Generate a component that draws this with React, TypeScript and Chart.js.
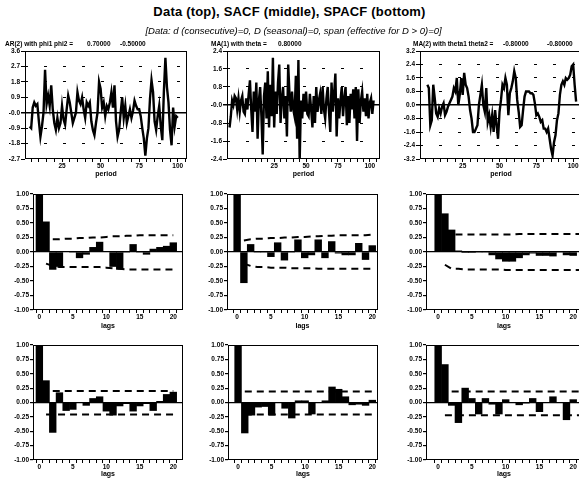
import React, { useEffect, useRef } from "react";
import { Chart, registerables } from "chart.js";

Chart.register(...registerables);

const FONT = '"Liberation Sans", Arial, Helvetica, sans-serif';
Chart.defaults.font.family = FONT;
Chart.defaults.color = "#000";

// ---------------- DATA ----------------
// Top row: simulated series (value per period)
const arStartPeriod = 4;
const arSeries = [
  -0.8, -0.9, 0.3, 0.6, 0.4, 0.5, -0.5, -1.4, -0.8, 0.0,
  2.5, 0.5, 1.0, 0.4, 1.6, 0.2, -0.6, -1.0, -0.3, -0.9,
  -0.6, 0.4, -0.4, -0.7, 0.2, 1.0, 0.6, 0.0, -0.6, -0.3,
  0.0, 1.2, 0.7, 0.5, 0.9, 0.2, -0.3, 0.6, 0.4, 0.6,
  -0.5, -1.0, -1.3, -0.6, 0.0, 1.8, 1.4, 0.3, 0.6, -0.2,
  0.4, 0.2, 0.6, 1.2, 0.3, 1.6, -0.5, -1.4, -1.0, 0.0,
  0.9, -0.3, 0.4, -0.6, -0.2, 0.2, -0.3, 0.1, 0.7, 0.4,
  0.2, 0.2, -0.2, -0.9, -1.5, -2.5, -1.5, -0.9, 0.8, 1.9,
  1.2, -0.5, -1.0, -0.2, 0.4, -0.8, -1.6, 1.2, 3.2, 1.5,
  0.6, -1.0, -1.9, 0.3, -0.8, -0.2, -0.3,
];

const ma1StartPeriod = -10;
const ma1Series = [
  -1.0, -0.5, 0.2, 0.0, 0.4, 0.3, -0.2, 0.3, -0.3, 0.2,
  0.4, -0.3, -0.4, 0.3, -0.2, 0.5, 1.1, -0.2, -1.2, 0.6,
  -0.3, 1.0, -1.5, 0.2, 0.8, -0.5, -2.2, 0.4, 1.0, -0.6,
  1.5, -1.0, 0.9, -0.5, 2.1, -1.0, 0.6, -0.4, 1.0, 1.8,
  -0.8, 0.3, 0.8, -0.6, 0.4, -1.4, 1.8, 0.5, -0.3, 0.6,
  -0.2, -0.5, 1.3, -1.5, 2.0, -2.5, 0.2, -0.6, 0.5, -0.3,
  0.6, -0.4, -0.5, 0.5, -0.2, -1.0, 0.4, -0.8, 0.8, -0.3,
  0.2, 0.5, -0.4, 0.8, -0.2, -0.6, 0.3, 0.8, -0.3, -1.2,
  1.0, -0.3, 0.5, 1.4, -1.4, 0.3, -0.6, 0.2, 0.8, -0.5,
  0.3, 0.8, -0.9, 0.4, -0.8, 0.5, -0.2, 0.7, -0.6, 0.8,
  -1.6, 0.7, -0.8, 0.2, 0.6, -0.3, 0.3, -0.5, 0.5, -0.6,
  0.1, 0.3, -0.4, 0.2,
];

const ma2StartPeriod = 1;
const ma2Series = [
  1.2, 1.0, -1.2, -0.9, 1.2, 0.4, -0.5, -0.7, -0.2, -0.5,
  -0.1, 0.1, -0.6, -0.4, -0.1, 0.1, 0.3, 0.5, 1.0, 0.8,
  1.6, 0.0, 0.6, 1.6, 0.6, 1.9, 1.2, 1.0, 0.5, -0.3,
  -0.8, -1.6, -1.6, -1.4, -1.2, 0.0, 0.6, 1.2, 0.0, -0.4,
  1.0, -1.0, -0.6, -1.3, -0.6, -1.6, -0.3, -1.2, -2.0, -0.4,
  0.3, 1.2, 1.0, 1.6, 1.2, -0.6, 0.7, 1.0, 1.4, 2.0,
  1.6, 0.3, -0.4, -1.3, -1.2, -0.3, 0.5, 0.8, 0.8, 0.8,
  0.7, 0.7, 0.6, 0.1, -0.6, -0.5, -0.7, -1.0, -0.9, -1.4,
  -1.4, -1.6, -1.4, -2.0, -2.6, -3.0, -2.2, -1.8, -0.9, -0.5,
  0.6, 1.2, 1.4, 1.2, 1.6, 1.5, 1.6, 1.8, 2.3, 2.4,
  1.2, 0.2,
];

const periodLabelTicks = [25, 50, 75, 100];
const periodMarkTicks = [0, 5, 10, 15, 20, 25, 30, 35, 40, 45, 50, 55, 60, 65, 70, 75, 80, 85, 90, 95, 100, 105];
const arYTicks = [-2.7, -1.8, -0.9, 0, 0.9, 1.8, 2.7, 3.6];
const ma1YTicks = [-2.4, -1.6, -0.8, 0, 0.8, 1.6, 2.4];
const ma2YTicks = [-3.2, -2.4, -1.6, -0.8, 0, 0.8, 1.6, 2.4, 3.2];

// Middle / bottom rows: lags and correlations
const lags = [0, 1, 2, 3, 4, 5, 6, 7, 8, 9, 10, 11, 12, 13, 14, 15, 16, 17, 18, 19, 20];
const lagLabelTicks = [0, 5, 10, 15, 20];
const corrTicks = [-1, -0.75, -0.5, -0.25, 0, 0.25, 0.5, 0.75, 1];

const sacfAr = [1.0, 0.52, -0.3, -0.25, 0.01, 0.0, -0.1, -0.04, 0.08, 0.17, 0.01, -0.25, -0.3, 0.0, 0.13, 0.0, -0.04, 0.05, 0.08, 0.1, 0.16];
const sacfMa1 = [1.0, -0.53, 0.13, 0.0, 0.0, -0.08, 0.16, -0.14, 0.0, 0.21, -0.1, -0.05, 0.21, -0.1, 0.18, -0.02, -0.05, -0.05, 0.15, -0.13, 0.11];
const sacfMa2 = [1.0, 0.66, 0.38, 0.02, -0.01, -0.01, 0.0, 0.0, -0.05, -0.12, -0.16, -0.16, -0.1, -0.05, -0.02, -0.06, -0.06, -0.07, 0.0, -0.05, -0.06];
const spacfAr = [1.0, 0.38, -0.52, 0.17, -0.14, -0.12, 0.0, -0.05, 0.07, 0.1, -0.15, -0.22, -0.06, -0.02, -0.15, -0.06, -0.02, -0.14, 0.02, 0.14, 0.18];
const spacfMa1 = [1.0, -0.53, -0.22, -0.08, -0.07, -0.22, 0.0, -0.1, -0.27, 0.03, 0.03, -0.2, 0.0, 0.03, 0.27, 0.23, 0.1, -0.04, -0.03, -0.05, 0.04];
const spacfMa2 = [1.0, 0.66, -0.05, -0.35, 0.25, 0.07, -0.2, 0.07, -0.03, -0.2, 0.05, 0.0, -0.04, -0.01, 0.07, -0.16, 0.0, 0.1, 0.0, -0.3, 0.05];

// Confidence bands (first lag + values)
const sacfArUpperStart = 2;
const sacfArUpper = [0.22, 0.22, 0.23, 0.23, 0.24, 0.24, 0.25, 0.25, 0.26, 0.27, 0.27, 0.28, 0.28, 0.29, 0.29, 0.29, 0.29, 0.29, 0.29];
const sacfArLowerStart = 1;
const sacfArLower = [-0.2, -0.24, -0.26, -0.26, -0.26, -0.26, -0.26, -0.26, -0.26, -0.27, -0.28, -0.29, -0.3, -0.3, -0.3, -0.3, -0.3, -0.3, -0.3, -0.3];
const sacfMa1UpperStart = 1;
const sacfMa1Upper = [0.2, 0.22, 0.23, 0.23, 0.24, 0.24, 0.25, 0.25, 0.26, 0.26, 0.27, 0.27, 0.28, 0.28, 0.29, 0.29, 0.29, 0.29, 0.29, 0.3];
const sacfMa1LowerStart = 1;
const sacfMa1Lower = [-0.2, -0.24, -0.26, -0.26, -0.27, -0.27, -0.27, -0.28, -0.28, -0.28, -0.28, -0.29, -0.29, -0.29, -0.29, -0.29, -0.29, -0.29, -0.29, -0.29];
const sacfMa2UpperStart = 1;
const sacfMa2Upper = [0.22, 0.3, 0.3, 0.3, 0.3, 0.3, 0.3, 0.3, 0.3, 0.3, 0.3, 0.31, 0.31, 0.31, 0.31, 0.31, 0.31, 0.31, 0.31, 0.31, 0.31];
const sacfMa2LowerStart = 1;
const sacfMa2Lower = [-0.22, -0.29, -0.29, -0.3, -0.3, -0.3, -0.3, -0.3, -0.3, -0.31, -0.31, -0.31, -0.31, -0.31, -0.31, -0.31, -0.31, -0.31, -0.31, -0.31, -0.31];
const spacfArUpperStart = 2;
const spacfArUpper = [0.2, 0.2, 0.2, 0.2, 0.2, 0.2, 0.2, 0.2, 0.2, 0.2, 0.2, 0.2, 0.2, 0.2, 0.2, 0.2, 0.2, 0.2, 0.2];
const spacfArLowerStart = 1;
const spacfArLower = [-0.21, -0.21, -0.21, -0.21, -0.21, -0.21, -0.21, -0.21, -0.21, -0.21, -0.21, -0.21, -0.21, -0.21, -0.21, -0.21, -0.21, -0.21, -0.21, -0.21];
const spacfMa1UpperStart = 1;
const spacfMa1Upper = [0.19, 0.19, 0.19, 0.19, 0.19, 0.19, 0.19, 0.19, 0.19, 0.19, 0.19, 0.19, 0.19, 0.19, 0.19, 0.19, 0.19, 0.19, 0.19, 0.19];
const spacfMa1LowerStart = 1;
const spacfMa1Lower = [-0.21, -0.21, -0.21, -0.21, -0.21, -0.21, -0.21, -0.21, -0.21, -0.21, -0.21, -0.21, -0.21, -0.21, -0.21, -0.21, -0.21, -0.21, -0.21, -0.21];
const spacfMa2UpperStart = 2;
const spacfMa2Upper = [0.19, 0.19, 0.19, 0.19, 0.19, 0.19, 0.19, 0.19, 0.19, 0.19, 0.19, 0.19, 0.19, 0.19, 0.19, 0.19, 0.19, 0.19, 0.19, 0.19];
const spacfMa2LowerStart = 1;
const spacfMa2Lower = [-0.22, -0.22, -0.22, -0.22, -0.22, -0.22, -0.22, -0.22, -0.22, -0.22, -0.22, -0.22, -0.22, -0.22, -0.22, -0.22, -0.22, -0.22, -0.22, -0.22, -0.22];

// ---------------- LAYOUT / STYLE ----------------
type Geo = { left: number; top: number; width: number; height: number; yW: number; xH: number };
const PAD_TOP = 6;
const PAD_RIGHT = 8;

function geo(plotLeft: number, plotRight: number, plotTop: number, plotBottom: number, canvasBottom: number, yW: number): Geo {
  const left = plotLeft - yW;
  const top = plotTop - PAD_TOP;
  return { left, top, width: plotRight + PAD_RIGHT - left, height: canvasBottom - top, yW, xH: canvasBottom - plotBottom };
}

const tickFont = { size: 6.5, weight: "bold" as const, lineHeight: 1.2 };
const titleFont = { size: 7, weight: "bold" as const, lineHeight: 1.2 };

const boxPlugin = {
  id: "box",
  afterDraw(chart: any) {
    const { ctx, chartArea: a } = chart;
    ctx.save();
    ctx.strokeStyle = "#000";
    ctx.lineWidth = 1;
    ctx.strokeRect(a.left + 0.5, a.top + 0.5, a.right - a.left - 1, a.bottom - a.top - 1);
    ctx.restore();
  },
};

function baseOptions() {
  return {
    animation: false,
    responsive: false,
    devicePixelRatio: 1,
    events: [],
    layout: { padding: { top: PAD_TOP, right: PAD_RIGHT, left: 0, bottom: 0 } },
    plugins: { legend: { display: false }, tooltip: { enabled: false } },
  };
}

function seriesChart(start: number, values: number[], xMin: number, xMax: number, yMin: number, yMax: number, yTicks: number[], zeroLabel: string) {
  return (g: Geo) => ({
    type: "line",
    data: {
      datasets: [
        {
          data: values.map((v, i) => ({ x: start + i, y: v })),
          borderColor: "#000",
          borderWidth: 2.4,
          pointRadius: 0,
          tension: 0,
          fill: false,
        },
      ],
    },
    options: {
      ...baseOptions(),
      scales: {
        x: {
          type: "linear",
          min: xMin,
          max: xMax,
          afterBuildTicks: (s: any) => {
            s.ticks = periodMarkTicks.filter((v) => v >= xMin && v <= xMax).map((v) => ({ value: v }));
          },
          afterFit: (s: any) => {
            s.height = g.xH;
          },
          ticks: {
            autoSkip: false,
            maxRotation: 0,
            padding: 0,
            font: tickFont,
            color: "#000",
            callback: (v: any) => (periodLabelTicks.includes(v) ? String(v) : ""),
          },
          grid: { drawOnChartArea: false, tickLength: 3, tickColor: "#000" },
          border: { display: false },
          title: { display: true, text: "period", padding: 0, font: titleFont, color: "#000" },
        },
        y: {
          min: yMin,
          max: yMax,
          afterBuildTicks: (s: any) => {
            s.ticks = yTicks.map((v) => ({ value: v }));
          },
          afterFit: (s: any) => {
            s.width = g.yW;
          },
          ticks: {
            autoSkip: false,
            padding: 1,
            font: tickFont,
            color: "#000",
            callback: (v: any) => (Math.abs(v) < 1e-9 ? zeroLabel : Number(v).toFixed(1)),
          },
          grid: {
            color: (c: any) => {
              const v = c.tick ? c.tick.value : undefined;
              if (v === undefined || v === yMin || v === yMax) return "rgba(0,0,0,0)";
              return "#000";
            },
            lineWidth: (c: any) => (c.tick && c.tick.value === 0 ? 1.5 : 1),
            tickLength: 4,
            tickColor: "#000",
          },
          border: {
            display: false,
            dash: (c: any) => (c && c.tick && c.tick.value !== 0 ? [3, 16] : []),
          },
        },
      },
    },
    plugins: [boxPlugin],
  });
}

function band(start: number, values: number[]) {
  return {
    type: "line",
    data: values.map((v, i) => ({ x: start + i, y: v })),
    borderColor: "#000",
    borderWidth: 2,
    borderDash: [7, 5],
    pointRadius: 0,
    fill: false,
    tension: 0,
  };
}

function corrChart(
  values: number[],
  upStart: number,
  up: number[],
  loStart: number,
  lo: number[],
  xMin: number,
  xMax: number
) {
  return (g: Geo) => ({
    type: "bar",
    data: {
      datasets: [
        {
          type: "bar",
          data: lags.map((l, i) => ({ x: l, y: values[i] })),
          backgroundColor: "#000",
          borderWidth: 0,
          barPercentage: 1,
          categoryPercentage: 1,
        },
        band(upStart, up),
        band(loStart, lo),
      ],
    },
    options: {
      ...baseOptions(),
      scales: {
        x: {
          type: "linear",
          min: xMin,
          max: xMax,
          offset: false,
          afterBuildTicks: (s: any) => {
            s.ticks = lags.map((v) => ({ value: v }));
          },
          afterFit: (s: any) => {
            s.height = g.xH;
          },
          ticks: {
            autoSkip: false,
            maxRotation: 0,
            padding: 0,
            font: tickFont,
            color: "#000",
            callback: (v: any) => (lagLabelTicks.includes(v) ? String(v) : ""),
          },
          grid: { drawOnChartArea: false, tickLength: 3, tickColor: "#000" },
          border: { display: false },
          title: { display: true, text: "lags", padding: 0, font: titleFont, color: "#000" },
        },
        y: {
          min: -1,
          max: 1,
          afterBuildTicks: (s: any) => {
            s.ticks = corrTicks.map((v) => ({ value: v }));
          },
          afterFit: (s: any) => {
            s.width = g.yW;
          },
          ticks: {
            autoSkip: false,
            padding: 1,
            font: tickFont,
            color: "#000",
            callback: (v: any) => Number(v).toFixed(2),
          },
          grid: {
            color: (c: any) => (c.tick && c.tick.value === 0 ? "#000" : "rgba(0,0,0,0)"),
            lineWidth: 1.2,
            tickLength: 3,
            tickColor: "#000",
          },
          border: { display: false },
        },
      },
    },
    plugins: [boxPlugin],
  });
}

function ChartCanvas({ g, make }: { g: Geo; make: (g: Geo) => any }) {
  const ref = useRef<HTMLCanvasElement | null>(null);
  useEffect(() => {
    if (!ref.current) return;
    const chart = new Chart(ref.current, make(g) as any);
    return () => chart.destroy();
  }, []);
  return (
    <canvas
      ref={ref}
      width={g.width}
      height={g.height}
      style={{ position: "absolute", left: g.left, top: g.top, width: g.width, height: g.height, display: "block" }}
    />
  );
}

// geometry for each panel
const ROW1 = { top: 51, bottom: 159, canvasBottom: 178, yW: 24 };
const ROW2 = { top: 194, bottom: 310, canvasBottom: 330, yW: 30 };
const ROW3 = { top: 345, bottom: 460, canvasBottom: 478, yW: 30 };

const panels = [
  { g: geo(25, 187, ROW1.top, ROW1.bottom, ROW1.canvasBottom, ROW1.yW), make: seriesChart(arStartPeriod, arSeries, 1, 106, -2.7, 3.6, arYTicks, "-0.0") },
  { g: geo(227, 380, ROW1.top, ROW1.bottom, ROW1.canvasBottom, ROW1.yW), make: seriesChart(ma1StartPeriod, ma1Series, -12, 108, -2.4, 2.4, ma1YTicks, "-0.0") },
  { g: geo(420, 582, ROW1.top, ROW1.bottom, ROW1.canvasBottom, ROW1.yW), make: seriesChart(ma2StartPeriod, ma2Series, -4, 106, -3.2, 3.2, ma2YTicks, "0.0") },
  { g: geo(33, 183, ROW2.top, ROW2.bottom, ROW2.canvasBottom, ROW2.yW), make: corrChart(sacfAr, sacfArUpperStart, sacfArUpper, sacfArLowerStart, sacfArLower, -0.95, 21.45) },
  { g: geo(227, 378, ROW2.top, ROW2.bottom, ROW2.canvasBottom, ROW2.yW), make: corrChart(sacfMa1, sacfMa1UpperStart, sacfMa1Upper, sacfMa1LowerStart, sacfMa1Lower, -1.5, 20.85) },
  { g: geo(426, 582, ROW2.top, ROW2.bottom, ROW2.canvasBottom, ROW2.yW), make: corrChart(sacfMa2, sacfMa2UpperStart, sacfMa2Upper, sacfMa2LowerStart, sacfMa2Lower, -1.8, 21.3) },
  { g: geo(33, 183, ROW3.top, ROW3.bottom, ROW3.canvasBottom, ROW3.yW), make: corrChart(spacfAr, spacfArUpperStart, spacfArUpper, spacfArLowerStart, spacfArLower, -0.95, 21.45) },
  { g: geo(228, 378, ROW3.top, ROW3.bottom, ROW3.canvasBottom, ROW3.yW), make: corrChart(spacfMa1, spacfMa1UpperStart, spacfMa1Upper, spacfMa1LowerStart, spacfMa1Lower, -1.5, 20.85) },
  { g: geo(426, 582, ROW3.top, ROW3.bottom, ROW3.canvasBottom, ROW3.yW), make: corrChart(spacfMa2, spacfMa2UpperStart, spacfMa2Upper, spacfMa2LowerStart, spacfMa2Lower, -1.8, 21.3) },
];

const panelTitles = [
  { text: "AR(2) with phi1 phi2 =", left: 5 },
  { text: "0.70000", left: 87 },
  { text: "-0.50000", left: 120 },
  { text: "MA(1) with theta =", left: 211 },
  { text: "0.80000", left: 278 },
  { text: "MA(2) with theta1 theta2 =", left: 413 },
  { text: "-0.80000", left: 503 },
  { text: "-0.80000", left: 547 },
];

export default function App() {
  return (
    <div
      style={{
        position: "fixed",
        left: 0,
        top: 0,
        width: 579,
        height: 482,
        overflow: "hidden",
        background: "#fff",
        fontFamily: FONT,
        color: "#000",
      }}
    >
      {panels.map((p, i) => (
        <ChartCanvas key={i} g={p.g} make={p.make} />
      ))}
      <div
        style={{
          position: "absolute",
          left: 0,
          top: 4,
          width: 579,
          textAlign: "center",
          fontSize: 13,
          fontWeight: "bold",
          letterSpacing: 0.2,
          lineHeight: "16px",
          whiteSpace: "nowrap",
        }}
      >
        Data (top), SACF (middle), SPACF (bottom)
      </div>
      <div
        style={{
          position: "absolute",
          left: 4,
          top: 25,
          width: 579,
          textAlign: "center",
          fontSize: 9.5,
          fontStyle: "italic",
          lineHeight: "12px",
          whiteSpace: "nowrap",
        }}
      >
        [Data: d (consecutive)=0, D (seasonal)=0, span (effective for D &gt; 0)=0]
      </div>
      {panelTitles.map((t, i) => (
        <span
          key={i}
          style={{
            position: "absolute",
            left: t.left,
            top: 40,
            fontSize: 6.5,
            fontWeight: "bold",
            lineHeight: "8px",
            whiteSpace: "nowrap",
          }}
        >
          {t.text}
        </span>
      ))}
    </div>
  );
}
